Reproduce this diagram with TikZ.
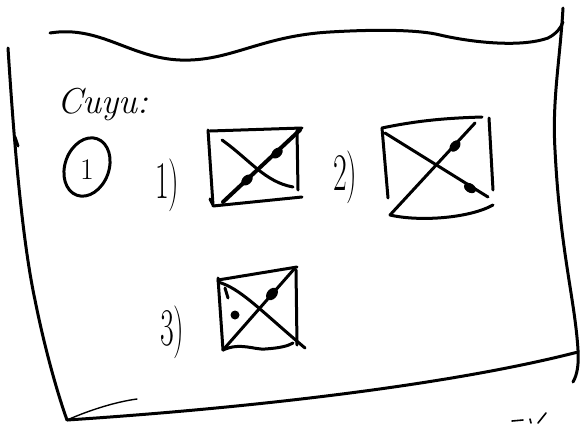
\documentclass[tikz,border=0pt]{standalone}
\begin{document}
\begin{tikzpicture}[x=1pt,y=-1pt,
  pen/.style={line width=3pt, line cap=round, line join=round},
  thickpen/.style={line width=4pt, line cap=round},
  thinpen/.style={line width=1.4pt, line cap=round},
  hand/.style={font=\fontsize{36}{36}\selectfont\itshape, inner sep=0pt},
  numlbl/.style={font=\fontsize{46}{46}\selectfont, inner sep=0pt, anchor=base west},
  dotm/.style={fill=black}]
\useasboundingbox (0,0) rectangle (580,423);
% sheet frame
\draw[pen] (50,33) .. controls (100,25) and (130,58) .. (180,60)
  .. controls (230,62) and (260,36) .. (330,32)
  .. controls (380,29) and (420,30) .. (440,35)
  .. controls (470,42) and (520,48) .. (548,38)
  .. controls (556,34) and (561,28) .. (563,22);
\draw[pen] (563,8) .. controls (560,60) and (552,100) .. (555,150)
  .. controls (560,250) and (575,300) .. (578,350)
  .. controls (579,365) and (577,375) .. (573,382);
\draw[pen] (8,48) .. controls (12,110) and (20,230) .. (35,300)
  .. controls (45,350) and (58,395) .. (67,420);
\draw[pen] (15,137) -- (18,146);
\draw[pen] (67,420) .. controls (250,408) and (450,385) .. (578,352);
\draw[thinpen] (67,420) .. controls (90,410) and (115,402) .. (137,399);
% title
\node[hand, anchor=base west] (title) at (57,113) {Cuyu:};
% circled one
\draw[pen] (87,167) ellipse [x radius=22, y radius=30, rotate=-20];
\node[font=\fontsize{30}{30}\selectfont, inner sep=0pt] (one) at (87,170) {1};
% labels
\node[numlbl] (l1) at (155,198) {\scalebox{0.65}[1.15]{1)}};
\node[numlbl] (l2) at (333,190) {\scalebox{0.65}[1.15]{2)}};
\node[numlbl] (l3) at (160,345) {\scalebox{0.65}[1.15]{3)}};
% box 1
\draw[pen] (210,131) -- (302,128);
\draw[pen] (208,130) -- (213,205) -- (210,199);
\draw[pen] (213,206) -- (302,197);
\draw[pen] (297,130) -- (298,190);
\draw[thickpen] (223,202) -- (300,130);
\draw[pen] (222,140) .. controls (250,160) and (265,182) .. (293,187);
\fill[dotm] (247,180) ellipse [x radius=6.5, y radius=4.5, rotate=43];
\fill[dotm] (277,153) ellipse [x radius=6.5, y radius=4.5, rotate=43];
% box 2
\draw[pen] (382,128) .. controls (420,120) and (450,118) .. (482,117);
\draw[pen] (382,128) -- (388,198);
\draw[pen] (489,118) -- (493,190);
\draw[pen] (390,215) .. controls (420,222) and (470,218) .. (493,205);
\draw[pen] (385,133) -- (488,197);
\draw[pen] (390,215) -- (475,123);
\fill[dotm] (470,188) ellipse [x radius=6.5, y radius=4.5, rotate=-32];
\fill[dotm] (455,146) ellipse [x radius=6.5, y radius=4.5, rotate=47];
% box 3
\draw[pen] (218,280) -- (297,267);
\draw[pen] (218,278) -- (223,350);
\draw[pen] (296,270) -- (297,345);
\draw[pen] (223,350) .. controls (240,342) and (255,350) .. (265,349)
  .. controls (280,348) and (288,346) .. (293,343);
\draw[pen] (223,350) -- (295,268);
\draw[pen] (218,282) .. controls (240,288) and (260,310) .. (305,348);
\draw[pen] (225,288) -- (228,298);
\fill[dotm] (272,294) ellipse [x radius=7, y radius=5, rotate=49];
\fill[dotm] (235,315) circle (4.5);
% cut-off writing at the bottom edge
\draw[thinpen, line width=1.6pt] (512,421) -- (523,420);
\draw[thinpen, line width=1.6pt] (530,419) -- (531,423);
\draw[thinpen, line width=1.6pt] (538,423) -- (546,413);
\end{tikzpicture}
\end{document}
